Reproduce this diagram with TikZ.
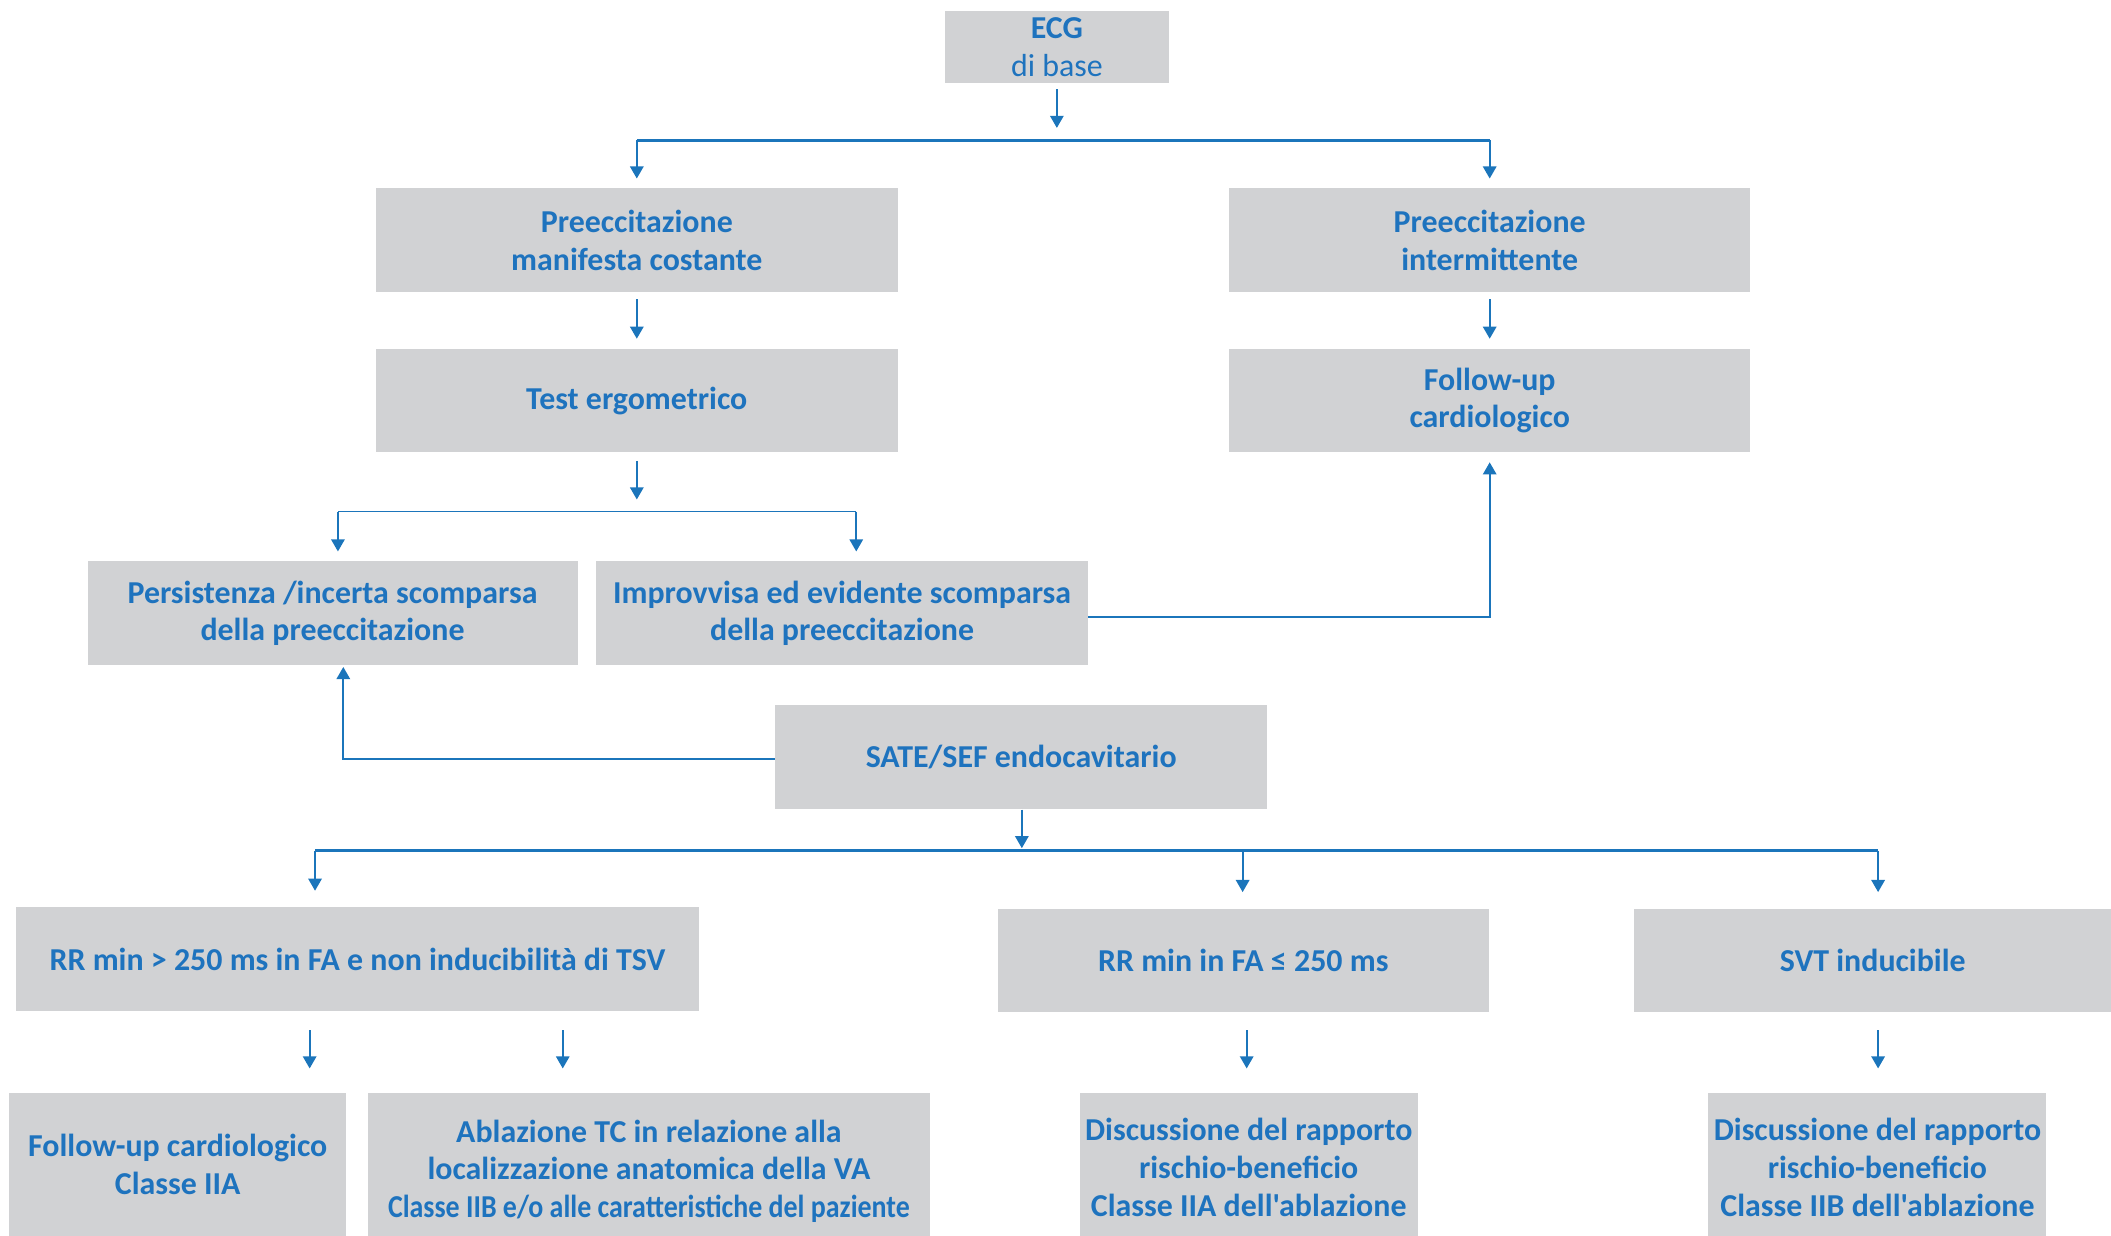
\documentclass[tikz,border=0pt]{standalone}
\usepackage{fontspec}
\setmainfont{Carlito}[Ligatures=TeXOff]
\usetikzlibrary{arrows.meta,calc}
\definecolor{txtblue}{RGB}{30,115,190}
\definecolor{lnblue}{RGB}{27,117,187}
\definecolor{boxgray}{RGB}{209,210,212}
\tikzset{
  box/.style={fill=boxgray, text=txtblue, align=center, inner sep=0pt,
    font=\fontsize{11.85}{14}\selectfont\bfseries},
  arr/.style={draw=lnblue, line width=0.65pt, -{Triangle[length=4.5pt,width=5pt]}},
  conn/.style={draw=lnblue, line width=0.65pt},
  bus/.style={draw=lnblue, line width=1.1pt},
}
\begin{document}
\begin{tikzpicture}[x=0.5pt,y=-0.5pt]
\useasboundingbox (0,0) rectangle (1568,918);
% nodes
\node[box, minimum width=83pt, minimum height=27pt] (ecg) at (785,35) {ECG\\\mdseries di base};
\node[box, minimum width=194pt, minimum height=38.5pt] (pmc) at (473,178.5) {Preeccitazione\\manifesta costante};
\node[box, minimum width=193.5pt, minimum height=38.5pt] (pint) at (1106.5,178.5) {Preeccitazione\\intermittente};
\node[box, minimum width=194pt, minimum height=38.5pt] (test) at (473,297.5) {Test ergometrico};
\node[box, minimum width=193.5pt, minimum height=38.5pt] (fu) at (1106.5,297.5) {Follow-up\\cardiologico};
\node[box, minimum width=182pt, minimum height=38.5pt] (pers) at (247,455.5) {Persistenza /incerta scomparsa\\della preeccitazione};
\node[box, minimum width=182.5pt, minimum height=38.5pt] (impr) at (625.5,455.5) {Improvvisa ed evidente scomparsa\\della preeccitazione};
\node[box, minimum width=182.5pt, minimum height=38.5pt] (sate) at (758.5,562.5) {SATE/SEF endocavitario};
\node[box, minimum width=253.5pt, minimum height=38.5pt] (rr1) at (265.5,712.5) {RR min > 250 ms in FA e non inducibilità di TSV};
\node[box, minimum width=182.5pt, minimum height=38.5pt] (rr2) at (923.5,713.5) {RR min in FA ≤ 250 ms};
\node[box, minimum width=177pt, minimum height=38.5pt] (svt) at (1391,713.5) {SVT inducibile};
\node[box, minimum width=125pt, minimum height=53pt] (f2) at (132,865) {Follow-up cardiologico\\Classe IIA};
\node[box, minimum width=209pt, minimum height=53pt] (abl) at (482,865) {};
\node[box, anchor=center] (abltxt) at (482,870) {Ablazione TC in relazione alla\\localizzazione anatomica della VA\\\scalebox{0.875}[1]{Classe IIB e/o alle caratteristiche del paziente}};
\node[box, minimum width=125.5pt, minimum height=53pt] (d1) at (927.5,865) {};
\node[box, anchor=center] (d1txt) at (927.5,867) {Discussione del rapporto\\rischio-beneficio\\Classe IIA dell'ablazione};
\node[box, minimum width=125.5pt, minimum height=53pt] (d2) at (1394.5,865) {};
\node[box, anchor=center] (d2txt) at (1394.5,867) {Discussione del rapporto\\rischio-beneficio\\Classe IIB dell'ablazione};
% junction coordinates
\coordinate (j1) at (785,104);
\coordinate (j2) at (473,380);
\coordinate (j3) at (759,632);
\coordinate (b2l) at (251,380);
\coordinate (b2r) at (636,380);
\coordinate (b3l) at (234,632);
\coordinate (b3m) at (923,632);
\coordinate (b3r) at (1395,632);
\coordinate (c3) at (255,564);
\coordinate (c2) at ([yshift=-1.5pt]impr.east);
\coordinate (x1) at (230,0);
\coordinate (x2) at (418,0);
\coordinate (x3) at (926,0);
\coordinate (x4) at (1395,0);
% connectors
\draw[arr, shorten <=2pt, shorten >=4.5pt] (ecg.south) -- (ecg.south |- j1);
\draw[bus] (pmc.north |- j1) -- (pint.north |- j1);
\draw[arr, shorten >=3.5pt] (pmc.north |- j1) -- (pmc.north);
\draw[arr, shorten >=3.5pt] (pint.north |- j1) -- (pint.north);
\draw[arr, shorten <=2.5pt, shorten >=3.5pt] (pmc.south) -- (test.north);
\draw[arr, shorten <=2.5pt, shorten >=3.5pt] (pint.south) -- (fu.north);
\draw[arr, shorten <=3pt, shorten >=4.5pt] (test.south) -- (j2);
\draw[conn] (b2l) -- (b2r);
\draw[arr, shorten >=3.5pt] (b2l) -- (b2l |- pers.north);
\draw[arr, shorten >=3.5pt] (b2r) -- (b2r |- impr.north);
\draw[arr, shorten >=3.5pt] (c2) -- (fu.south |- c2) -- (fu.south);
\draw[arr, shorten >=0.5pt] (sate.west |- c3) -- (c3) -- (c3 |- pers.south);
\draw[arr, shorten >=1pt] (sate.south -| j3) -- (j3);
\draw[bus] (b3l) -- (b3r);
\draw[arr, shorten >=6pt] (b3l) -- (b3l |- rr1.north);
\draw[arr, shorten >=6pt] (b3m) -- (b3m |- rr2.north);
\draw[arr, shorten >=6pt] (b3r) -- (b3r |- svt.north);
\draw[arr, shorten <=7pt, shorten >=9pt] (rr1.south -| x1) -- (f2.north -| x1);
\draw[arr, shorten <=7pt, shorten >=9pt] (rr1.south -| x2) -- (abl.north -| x2);
\draw[arr, shorten <=6.5pt, shorten >=9pt] (rr2.south -| x3) -- (d1.north -| x3);
\draw[arr, shorten <=6.5pt, shorten >=9pt] (svt.south -| x4) -- (d2.north -| x4);
\end{tikzpicture}
\end{document}
